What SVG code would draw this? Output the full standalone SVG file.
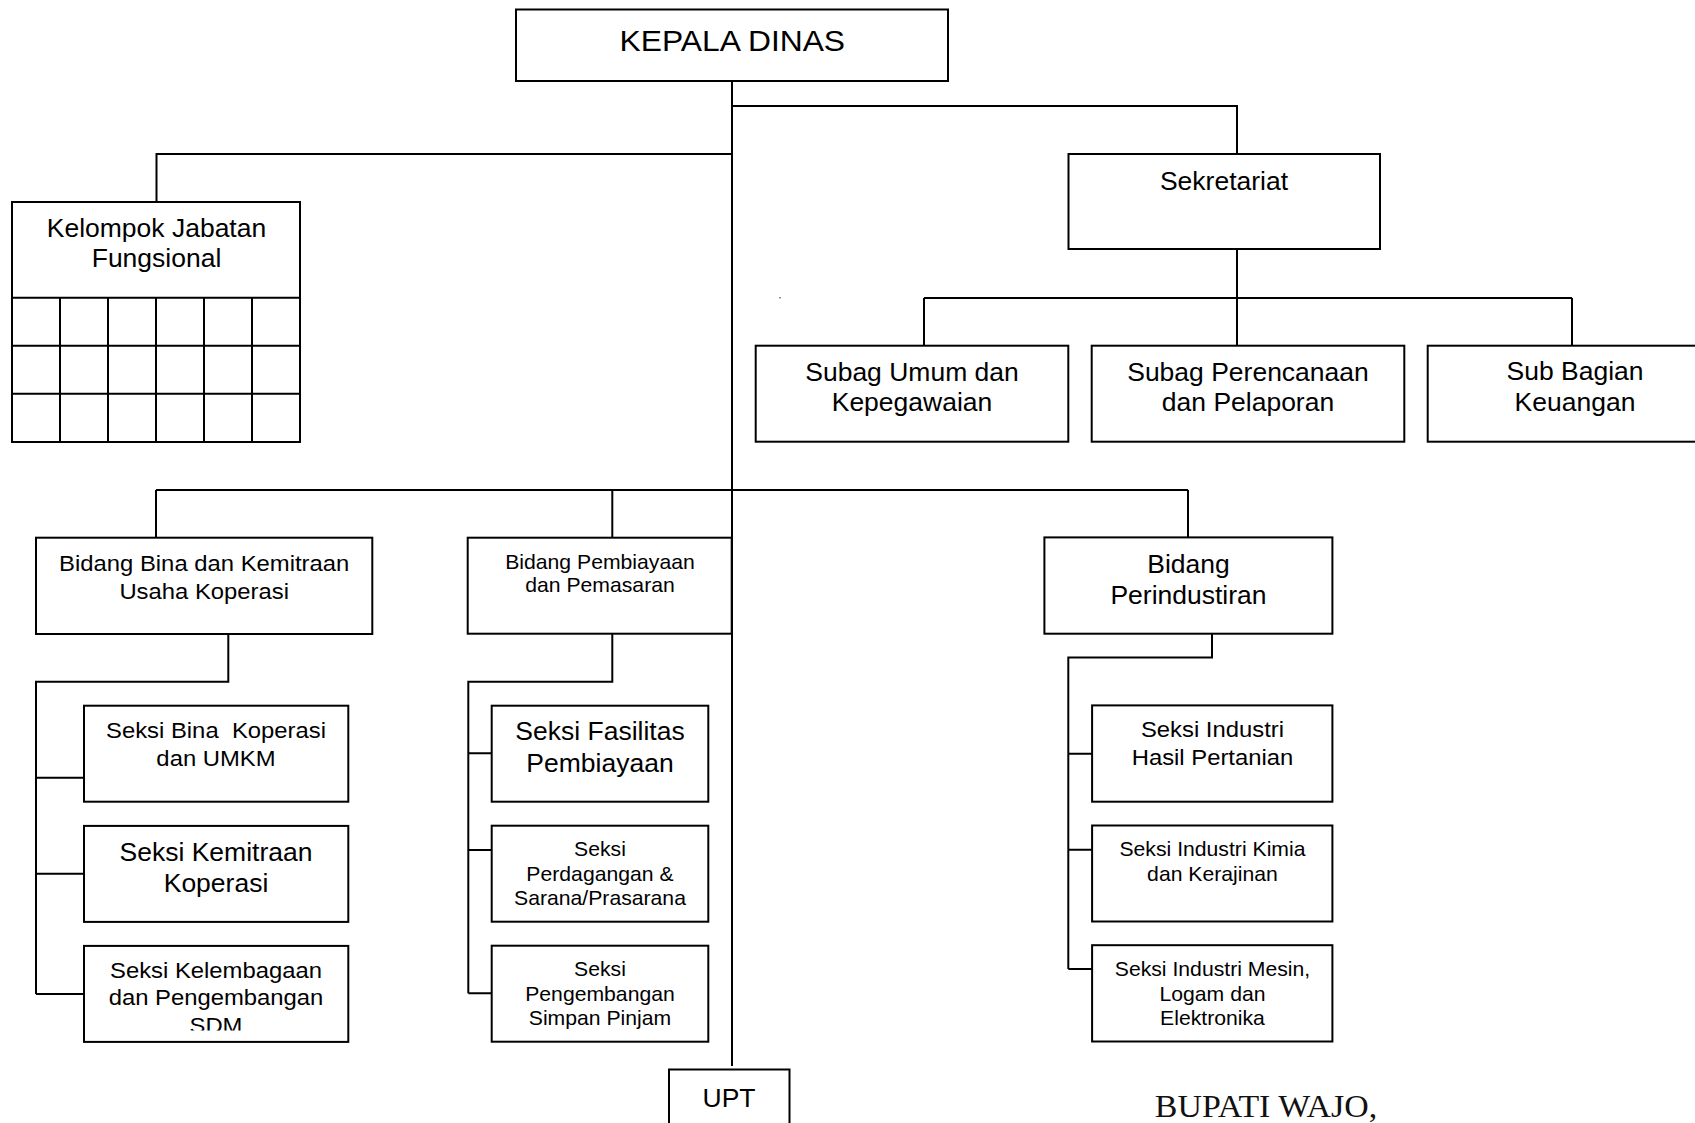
<svg xmlns="http://www.w3.org/2000/svg" width="1695" height="1123" viewBox="0 0 1695 1123">
  <style>
    .box { fill: #fff; stroke: #000; stroke-width: 2; }
    .ln { fill: none; stroke: #000; stroke-width: 2; }
    .t { font-family: "Liberation Sans", Arial, sans-serif; text-anchor: middle; fill: #000;
         transform-box: fill-box; transform-origin: center; transform: scaleX(1.06); }
    .f30 { font-size: 30px; }
    .f25 { font-size: 25px; }
    .f22 { font-size: 22.5px; }
    .f20 { font-size: 20px; }
    .sig { font-family: "Liberation Serif", "Times New Roman", serif; font-size: 32px; text-anchor: middle; fill: #111;
           transform-box: fill-box; transform-origin: center; transform: scaleX(1.06); }
  </style>
  <defs>
    <clipPath id="clipSdm">
      <rect x="84" y="940" width="265" height="90.5"/>
    </clipPath>
  </defs>
  <rect width="1695" height="1123" fill="#fff"/>

  <!-- connectors -->
  <g id="connectors">
    <path class="ln" d="M732 81 V1066"/>
    <path class="ln" d="M732 106 H1237 V154"/>
    <path class="ln" d="M732 154 H156.5 V202"/>
    <path class="ln" d="M1237 249 V346 M924 298 H1572 M924 298 V346 M1572 298 V346"/>
    <path class="ln" d="M156 490 H1188 M156 490 V538 M612.3 490 V538 M1188 490 V538"/>
    <path class="ln" d="M228.3 634 V681.7 H36 V994 M36 777.7 H84 M36 873.7 H84 M36 994 H84"/>
    <path class="ln" d="M612.3 633.5 V681.7 H468.3 V993.3 M468.3 753.3 H491.7 M468.3 850 H491.7 M468.3 993.3 H491.7"/>
    <path class="ln" d="M1212 633.7 V657.5 H1068.3 V969 M1068.3 753.8 H1092 M1068.3 849.7 H1092 M1068.3 969 H1092"/>
    <circle cx="780" cy="297.7" r="0.8" fill="#444"/>
  </g>

  <g id="kepala-dinas">
    <rect class="box" x="516" y="9.5" width="432" height="71.5"/>
    <text class="t f30" x="732.3" y="50.7">KEPALA DINAS</text>
  </g>

  <g id="kelompok-jabatan-fungsional">
    <rect class="box" x="12" y="202" width="288" height="240"/>
    <path class="ln" d="M12 297.7 H300 M12 345.7 H300 M12 393.7 H300 M60 297.7 V442 M108 297.7 V442 M156 297.7 V442 M204 297.7 V442 M252 297.7 V442"/>
    <text class="t f25" x="156.5" y="236.7">Kelompok Jabatan</text>
    <text class="t f25" x="156.5" y="267.3">Fungsional</text>
  </g>

  <g id="sekretariat">
    <rect class="box" x="1068.5" y="154" width="311.5" height="95"/>
    <text class="t f25" x="1224" y="190">Sekretariat</text>
  </g>

  <g id="subag-umum">
    <rect class="box" x="755.7" y="345.7" width="312.6" height="96"/>
    <text class="t f25" x="912" y="381">Subag Umum dan</text>
    <text class="t f25" x="912" y="411">Kepegawaian</text>
  </g>

  <g id="subag-perencanaan">
    <rect class="box" x="1091.7" y="345.7" width="312.6" height="96"/>
    <text class="t f25" x="1248" y="381">Subag Perencanaan</text>
    <text class="t f25" x="1248" y="411">dan Pelaporan</text>
  </g>

  <g id="sub-bagian-keuangan">
    <rect class="box" x="1427.7" y="345.7" width="312.6" height="96"/>
    <text class="t f25" x="1575" y="380.5">Sub Bagian</text>
    <text class="t f25" x="1575" y="411">Keuangan</text>
  </g>

  <g id="bidang-bina">
    <rect class="box" x="36" y="537.7" width="336.3" height="96.3"/>
    <text class="t f22" x="204.2" y="571.5">Bidang Bina dan Kemitraan</text>
    <text class="t f22" x="204.2" y="599">Usaha Koperasi</text>
  </g>

  <g id="bidang-pembiayaan">
    <rect class="box" x="467.7" y="537.7" width="264" height="96"/>
    <text class="t f20" x="600" y="569.3">Bidang Pembiayaan</text>
    <text class="t f20" x="600" y="591.7">dan Pemasaran</text>
  </g>

  <g id="bidang-perindustrian">
    <rect class="box" x="1044.4" y="537.4" width="288" height="96.3"/>
    <text class="t f25" x="1188.5" y="573.4">Bidang</text>
    <text class="t f25" x="1188.5" y="603.8">Perindustiran</text>
  </g>

  <g id="seksi-bina-koperasi">
    <rect class="box" x="84" y="705.7" width="264.3" height="96"/>
    <text class="t f22" x="216" y="737.7" xml:space="preserve">Seksi Bina  Koperasi</text>
    <text class="t f22" x="216" y="766">dan UMKM</text>
  </g>

  <g id="seksi-kemitraan">
    <rect class="box" x="84" y="825.9" width="264.3" height="96"/>
    <text class="t f25" x="216" y="860.7">Seksi Kemitraan</text>
    <text class="t f25" x="216" y="891.7">Koperasi</text>
  </g>

  <g id="seksi-kelembagaan">
    <rect class="box" x="84" y="945.9" width="264.3" height="96"/>
    <g clip-path="url(#clipSdm)">
      <text class="t f22" x="216" y="978.3">Seksi Kelembagaan</text>
      <text class="t f22" x="216" y="1005">dan Pengembangan</text>
      <text class="t f22" x="216" y="1033">SDM</text>
    </g>
  </g>

  <g id="seksi-fasilitas">
    <rect class="box" x="491.7" y="705.7" width="216.6" height="96"/>
    <text class="t f25" x="600" y="740">Seksi Fasilitas</text>
    <text class="t f25" x="600" y="771.7">Pembiayaan</text>
  </g>

  <g id="seksi-perdagangan">
    <rect class="box" x="491.7" y="825.7" width="216.6" height="96"/>
    <text class="t f20" x="600" y="856.5">Seksi</text>
    <text class="t f20" x="600" y="881">Perdagangan &amp;</text>
    <text class="t f20" x="600" y="905.5">Sarana/Prasarana</text>
  </g>

  <g id="seksi-simpan-pinjam">
    <rect class="box" x="491.7" y="945.7" width="216.6" height="96"/>
    <text class="t f20" x="600" y="976.5">Seksi</text>
    <text class="t f20" x="600" y="1001">Pengembangan</text>
    <text class="t f20" x="600" y="1025.5">Simpan Pinjam</text>
  </g>

  <g id="seksi-hasil-pertanian">
    <rect class="box" x="1092.1" y="705.4" width="240.3" height="96.3"/>
    <text class="t f22" x="1212.5" y="737.4">Seksi Industri</text>
    <text class="t f22" x="1212.5" y="764.8">Hasil Pertanian</text>
  </g>

  <g id="seksi-kimia">
    <rect class="box" x="1092.1" y="825.5" width="240.3" height="96"/>
    <text class="t f20" x="1212.5" y="856.2">Seksi Industri Kimia</text>
    <text class="t f20" x="1212.5" y="880.8">dan Kerajinan</text>
  </g>

  <g id="seksi-mesin">
    <rect class="box" x="1092.1" y="945.2" width="240.3" height="96.3"/>
    <text class="t f20" x="1212.5" y="976">Seksi Industri Mesin,</text>
    <text class="t f20" x="1212.5" y="1001">Logam dan</text>
    <text class="t f20" x="1212.5" y="1025">Elektronika</text>
  </g>

  <g id="upt">
    <rect class="box" x="669" y="1069.5" width="120.5" height="70"/>
    <text class="t f25" x="729" y="1107">UPT</text>
  </g>

  <g id="signature">
    <text class="sig" x="1266" y="1117">BUPATI WAJO,</text>
  </g>
</svg>
